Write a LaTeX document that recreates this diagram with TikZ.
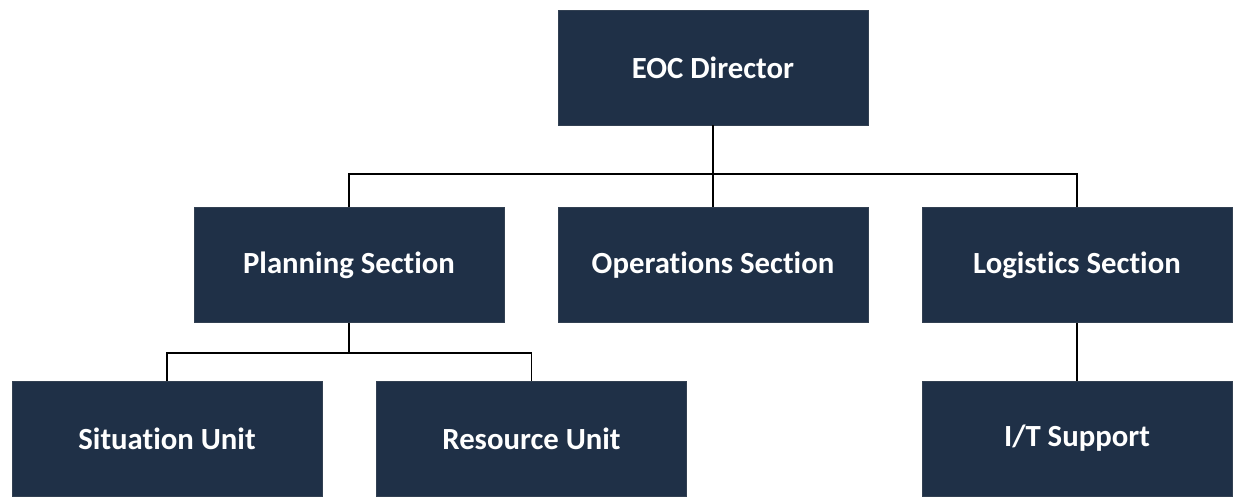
\documentclass[tikz,border=0pt]{standalone}
\usepackage{fontspec}
\setmainfont{Carlito}[Ligatures=NoCommon]
\usepackage{xcolor}
\usetikzlibrary{positioning}
\definecolor{boxblue}{HTML}{1F3047}

\begin{document}
\begin{tikzpicture}[
  unitbox/.style={rectangle, fill=boxblue, draw=boxblue!80!gray, line width=0.4pt,
                  minimum width=6.2cm, minimum height=2.3cm, align=center,
                  text=white, font=\fontsize{17.5}{20}\selectfont\bfseries},
  link/.style={draw=black, line width=1pt}
]
  \useasboundingbox (0,0) rectangle (24.7,-9.96);
  % top level
  \node[unitbox] (eoc) at (14.26,-1.35) {EOC Director};
  % sections
  \node[unitbox] (plan) at (6.98,-5.3)  {Planning Section};
  \node[unitbox] (ops)  at (14.26,-5.3) {Operations Section};
  \node[unitbox] (log)  at (21.54,-5.3) {Logistics Section};
  % units
  \node[unitbox] (sit) at (3.34,-8.77)  {Situation Unit};
  \node[unitbox] (res) at (10.63,-8.77) {Resource Unit};
  \node[unitbox] (its) at (21.54,-8.77) {I/T Support};
  % bus lines
  \coordinate (busA) at (0,-3.48);
  \coordinate (busB) at (0,-7.06);
  \draw[link] (eoc.south) -- (ops.north);
  \draw[link] (plan.north) |- (busA -| log.north) -- (log.north);
  \draw[link] (plan.south) -- (plan.south |- busB);
  \draw[link] (sit.north) |- (busB -| res.north) -- (res.north);
  \draw[link] (log.south) -- (its.north);
\end{tikzpicture}
\end{document}
